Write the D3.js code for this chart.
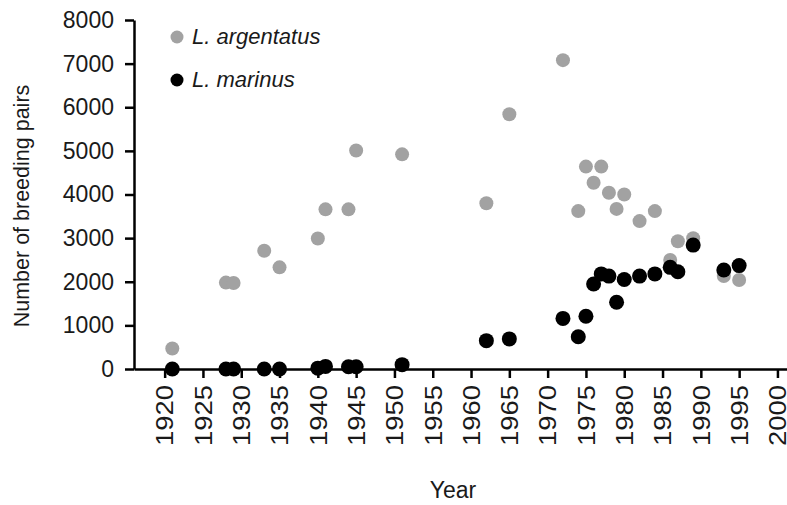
<!DOCTYPE html>
<html>
<head>
<meta charset="utf-8">
<script src="https://cdnjs.cloudflare.com/ajax/libs/d3/7.8.5/d3.min.js"></script>
<style>
body {
  margin: 0;
  background-color: white;
}
svg text {
  font-family: "Liberation Sans", Arial, sans-serif;
  fill: #1a1a1a;
}
.axis path,
.axis line {
  fill: none;
  stroke: black;
  stroke-width: 2.5;
}
</style>
</head>
<body>
<script>
// L. argentatus (herring gull)
const argYears = [1921, 1928, 1929, 1933, 1935, 1940, 1941, 1944, 1945, 1951, 1962, 1965, 1972,
                  1974, 1975, 1976, 1977, 1978, 1979, 1980, 1982, 1984, 1986, 1987, 1989, 1993, 1995];
const argPairs = [470, 1980, 1970, 2710, 2330, 2990, 3660, 3660, 5010, 4920, 3800, 5840, 7080,
                  3620, 4640, 4270, 4640, 4040, 3670, 4000, 3390, 3620, 2500, 2930, 3000, 2130, 2040];

// L. marinus (great black-backed gull)
const marYears = [1921, 1928, 1929, 1933, 1935, 1940, 1941, 1944, 1945, 1951, 1962, 1965, 1972,
                  1974, 1975, 1976, 1977, 1978, 1979, 1980, 1982, 1984, 1986, 1987, 1989, 1993, 1995];
const marPairs = [0, 0, 0, 0, 0, 20, 60, 50, 50, 100, 650, 690, 1160,
                  740, 1210, 1950, 2180, 2130, 1530, 2050, 2130, 2180, 2330, 2230, 2840, 2270, 2370];

const xTicks = d3.range(1920, 2001, 5);
const yTicks = d3.range(0, 8001, 1000);

const series = [
  {name: "L. argentatus", color: "#a2a2a2", r: 7, years: argYears, values: argPairs},
  {name: "L. marinus", color: "#000000", r: 7.5, years: marYears, values: marPairs}
];

const W = 787, H = 505;
const svg = d3.select("body").append("svg")
  .attr("width", W)
  .attr("height", H);

// 1920 sits ~30px right of the y axis, axis runs off the right edge
const x = d3.scaleLinear().domain([1916, 2002]).range([134, 134 + 86 * 7.66]);
const y = d3.scaleLinear().domain([0, 8000]).range([369, 20]);

const xAxis = d3.axisBottom(x).tickValues(xTicks).tickFormat(d3.format("d"))
  .tickSize(9).tickSizeOuter(0);
const yAxis = d3.axisLeft(y).tickValues(yTicks).tickFormat(d3.format("d"))
  .tickSize(9).tickSizeOuter(0).tickPadding(11);

const gx = svg.append("g")
  .attr("class", "axis")
  .attr("transform", `translate(0, ${y(0)})`)
  .call(xAxis);
gx.selectAll("text")
  .attr("transform", "rotate(-90)")
  .attr("x", -16)
  .attr("y", 0)
  .attr("dy", "0.36em")
  .attr("textLength", 61)
  .attr("lengthAdjust", "spacingAndGlyphs")
  .style("font-size", "23px")
  .style("text-anchor", "end");

const gy = svg.append("g")
  .attr("class", "axis")
  .attr("transform", `translate(${x(1916)}, 0)`)
  .call(yAxis);
gy.selectAll("text").style("font-size", "23px");

// points
series.forEach(s => {
  svg.append("g").selectAll("circle")
    .data(s.years.map((yr, i) => [yr, s.values[i]]))
    .enter().append("circle")
    .attr("cx", d => x(d[0]))
    .attr("cy", d => y(d[1]))
    .attr("r", s.r)
    .attr("fill", s.color);
});

// legend
const legend = svg.append("g").attr("transform", "translate(177, 37)");
series.forEach((s, i) => {
  legend.append("circle")
    .attr("cx", 0)
    .attr("cy", i * 43)
    .attr("r", 6.5)
    .attr("fill", s.color);
  legend.append("text")
    .attr("x", 15)
    .attr("y", i * 43)
    .attr("dy", "0.3em")
    .style("font-size", "22px")
    .style("font-style", "italic")
    .text(s.name);
});

svg.append("text")
  .attr("text-anchor", "middle")
  .attr("transform", `translate(29, 206) rotate(-90)`)
  .style("font-size", "21.5px")
  .text("Number of breeding pairs");

svg.append("text")
  .attr("text-anchor", "middle")
  .attr("x", 453)
  .attr("y", 498)
  .style("font-size", "23px")
  .text("Year");
</script>
</body>
</html>
